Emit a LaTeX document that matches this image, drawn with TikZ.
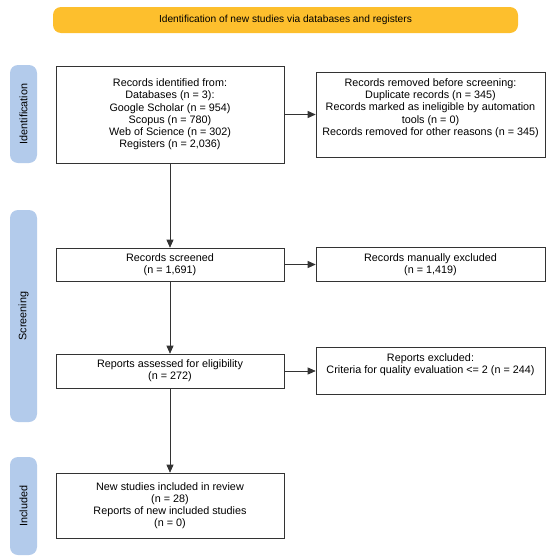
\documentclass[tikz,border=0pt]{standalone}
\usepackage{fontspec}
\setmainfont{Liberation Sans}
\usetikzlibrary{arrows.meta}
\definecolor{bannercol}{HTML}{FDBF2D}
\definecolor{phasecol}{HTML}{B3CBEB}
\definecolor{linecol}{HTML}{333333}
\newcommand{\upshift}[1]{\raisebox{6pt}[\dimexpr\height+6pt][\dimexpr\depth+6pt]{\begin{tabular}{@{}c@{}}#1\end{tabular}}}
\begin{document}
\begin{tikzpicture}[x=1pt,y=-1pt,
  txt/.style={font=\fontsize{10.8}{12.2}\selectfont},
  box/.style={txt, draw=linecol, line width=0.6pt, align=center, inner sep=0pt, minimum width=228pt},
  rbox/.style={box, minimum width=229pt},
  phase/.style={txt, fill=phasecol, rounded corners=8pt, rotate=90, minimum height=27pt, inner sep=0pt},
  banner/.style={font=\fontsize{10.2}{12}\selectfont, fill=bannercol, rounded corners=8pt, minimum width=465pt, minimum height=26pt, inner sep=0pt},
  arr/.style={draw=linecol, line width=0.7pt, -{Triangle[length=8pt,width=7pt]}}
]
\useasboundingbox (0,0) rectangle (550,560);
\node[banner] (ban) at (285.5,20) {Identification of new studies via databases and registers};
\node[phase, minimum width=98pt] (pid) at (23.5,114) {Identification};
\node[phase, minimum width=212pt] (psc) at (23.5,316) {Screening};
\node[phase, minimum width=98pt] (pin) at (23.5,506) {Included};

\node[box, minimum height=97pt] (b1) at (170,114.5) {Records identified from:\\Databases (n = 3):\\Google Scholar (n = 954)\\Scopus (n = 780)\\Web of Science (n = 302)\\Registers (n = 2,036)};
\node[rbox, minimum height=85pt] (b2) at (430.5,114.5) {\upshift{Records removed before screening:\\Duplicate records (n = 345)\\Records marked as ineligible by automation\\tools (n = 0)\\Records removed for other reasons (n = 345)}};
\node[box, minimum height=33pt] (b3) at (170,264.5) {Records screened\\(n = 1,691)};
\node[rbox, minimum height=34pt] (b4) at (430.5,264.5) {Records manually excluded\\(n = 1,419)};
\node[box, minimum height=34pt] (b5) at (170,371) {Reports assessed for eligibility\\(n = 272)};
\node[rbox, minimum height=47pt] (b6) at (430.5,371) {\upshift{Reports excluded:\\Criteria for quality evaluation <= 2 (n = 244)}};
\node[box, minimum height=65pt] (b7) at (170,505.5) {New studies included in review\\(n = 28)\\Reports of new included studies\\(n = 0)};

\draw[arr] (b1) -- (b2);
\draw[arr] (b1) -- (b3);
\draw[arr] (b3) -- (b4);
\draw[arr] (b3) -- (b5);
\draw[arr] (b5) -- (b6);
\draw[arr] (b5) -- (b7);
\end{tikzpicture}
\end{document}
